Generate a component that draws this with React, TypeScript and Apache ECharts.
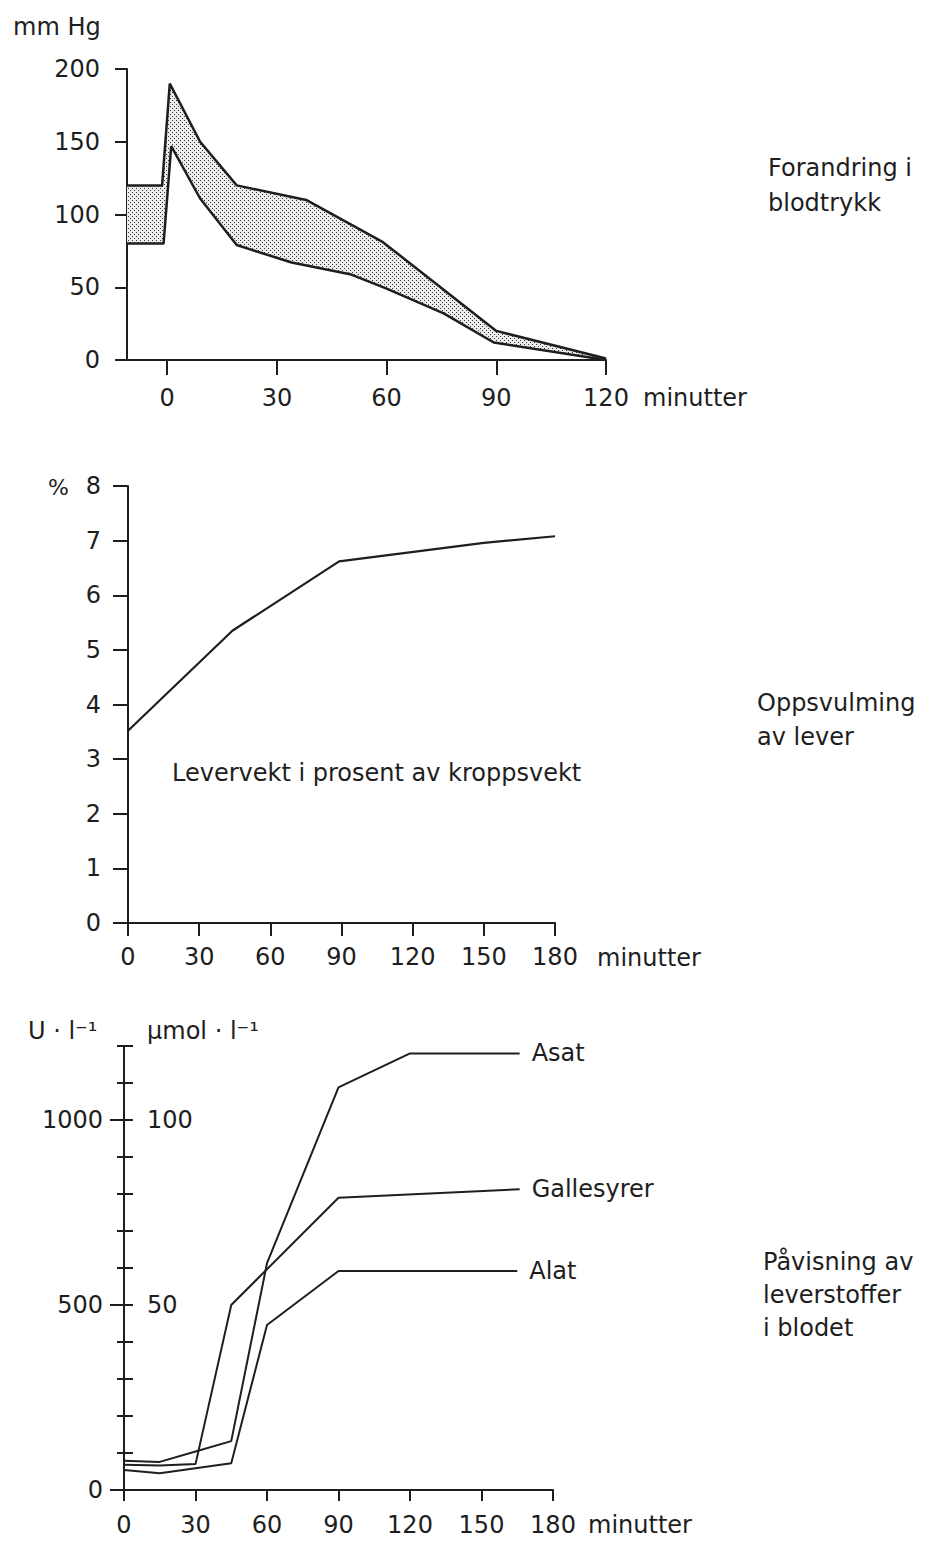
import React, { useEffect, useRef } from "react";
import * as echarts from "echarts";

// ---- Chart 1: blood pressure band (minutes, mm Hg)
const bpUpper: [number, number][] = [
  [-11, 120], [-1.4, 120], [0.7, 190], [9, 150], [19, 120], [38, 110], [59, 81], [90, 20], [120, 1],
];
const bpLower: [number, number][] = [
  [-11, 80], [-1, 80], [1.1, 147], [9, 111], [19, 79], [34, 67], [50, 59], [60, 49], [75.6, 32], [89.3, 12], [120, 0],
];
const bpXTicks = [0, 30, 60, 90, 120];

// ---- Chart 2: liver weight in % of body weight
const liverWeight: [number, number][] = [
  [0, 3.52], [44, 5.35], [89, 6.62], [150, 6.96], [180, 7.08],
];

// ---- Chart 3: liver substances in blood
const asat: [number, number][] = [
  [0, 79], [15, 76], [30, 104], [45, 132], [60, 613], [90, 1088], [120, 1180], [166, 1180],
];
const gallesyrer: [number, number][] = [ // µmol/l
  [0, 6.8], [15, 6.6], [30, 7.0], [45, 50], [90, 79], [166, 81.3],
];
const alat: [number, number][] = [
  [0, 54], [15, 45], [30, 59], [45, 72], [60, 446], [90, 592], [165, 592],
];
const uLabels = [0, 500, 1000];
const umolLabels = [50, 100];

const ink = "#1e1e1e";
const ff = "'DejaVu Sans', sans-serif";

export default function App() {
  const ref = useRef<HTMLDivElement>(null);
  useEffect(() => {
    if (!ref.current) return;
    const chart = echarts.init(ref.current, undefined, { renderer: "svg" });

    const cv = document.createElement("canvas");
    cv.width = 4;
    cv.height = 4;
    const ctx = cv.getContext("2d");
    if (ctx) {
      ctx.fillStyle = "#ececec";
      ctx.fillRect(0, 0, 4, 4);
      ctx.fillStyle = "#333333";
      ctx.fillRect(0, 0, 1, 1);
      ctx.fillRect(2, 2, 1, 1);
    }
    const pattern: any = { image: cv, repeat: "repeat" };

    const axisLine = { show: true, onZero: false, lineStyle: { color: ink, width: 2 } };
    const label = (margin: number, extra: any = {}) => ({
      margin, fontSize: 24, color: ink, fontFamily: ff, ...extra,
    });
    const tick = (length: number, extra: any = {}) => ({
      show: true, length, lineStyle: { color: ink, width: 2 }, ...extra,
    });
    const lineSeries = (data: any, xi: number, yi: number, width: number, extra: any = {}) => ({
      type: "line", data, xAxisIndex: xi, yAxisIndex: yi, symbol: "none",
      lineStyle: { color: ink, width }, z: 3, ...extra,
    });
    const txt = (text: string, x: number, y: number, extra: any = {}) => ({
      type: "text", x, y,
      style: {
        text, fill: ink, fontSize: 24, fontFamily: ff,
        align: "left", verticalAlign: "middle", textAlign: "left", textVerticalAlign: "middle",
        ...extra,
      },
    });
    const endLabel = {
      show: true, formatter: (p: any) => p.seriesName, distance: 12,
      fontSize: 24, color: ink, fontFamily: ff,
    };
    const hidden = {
      axisLine: { show: false, onZero: false }, axisTick: { show: false },
      axisLabel: { show: false }, splitLine: { show: false },
    };

    chart.setOption({
      animation: false,
      backgroundColor: "#ffffff",
      grid: [
        { left: 127, top: 69, width: 479, height: 291 },
        { left: 128, top: 486, width: 427, height: 437 },
        { left: 124, top: 1046, width: 429, height: 444 },
        // narrow strip right of the U/l axis: carries the µmol ticks and labels
        { left: 124, top: 1046, width: 9, height: 444 },
      ],
      xAxis: [
        {
          gridIndex: 0, type: "value", min: -11, max: 120,
          axisLine, splitLine: { show: false },
          axisTick: tick(15, { customValues: bpXTicks }),
          axisLabel: label(26, { customValues: bpXTicks }),
        },
        {
          gridIndex: 1, type: "value", min: 0, max: 180, interval: 30,
          axisLine, splitLine: { show: false },
          axisTick: tick(13), axisLabel: label(22),
        },
        {
          gridIndex: 2, type: "value", min: 0, max: 180, interval: 30,
          axisLine, splitLine: { show: false },
          axisTick: tick(11), axisLabel: label(23),
        },
        { gridIndex: 3, type: "value", min: 0, max: 1, ...hidden },
      ],
      yAxis: [
        {
          gridIndex: 0, type: "value", min: 0, max: 200, interval: 50, position: "left",
          axisLine, splitLine: { show: false },
          axisTick: tick(12), axisLabel: label(27),
        },
        {
          gridIndex: 1, type: "value", min: 0, max: 8, interval: 1, position: "left",
          axisLine, splitLine: { show: false },
          axisTick: tick(15), axisLabel: label(27),
        },
        {
          gridIndex: 2, type: "value", min: 0, max: 1200, interval: 100, position: "left",
          axisLine, splitLine: { show: false },
          axisTick: tick(7),
          axisLabel: label(21, {
            formatter: (v: number) => (uLabels.includes(v) ? String(v) : ""),
          }),
        },
        {
          // µmol scale used by Gallesyrer
          gridIndex: 2, type: "value", min: 0, max: 120, interval: 10, position: "right",
          ...hidden,
        },
        {
          gridIndex: 2, type: "value", min: 0, max: 1200, position: "left",
          axisLine: { show: false, onZero: false }, splitLine: { show: false },
          axisTick: tick(14, { customValues: uLabels }),
          axisLabel: { show: false },
        },
        {
          gridIndex: 3, type: "value", min: 0, max: 120, interval: 10, position: "right",
          axisLine: { show: false, onZero: false }, axisTick: { show: false },
          splitLine: { show: true, lineStyle: { color: ink, width: 2 } },
          axisLabel: label(14, {
            formatter: (v: number) => (umolLabels.includes(v) ? String(v) : ""),
          }),
        },
      ],
      series: [
        {
          type: "custom", xAxisIndex: 0, yAxisIndex: 0, clip: false, z: 1,
          data: [[0, 0]],
          renderItem: (params: any, api: any) => {
            if (params.dataIndex !== 0) return null;
            const pts = [
              ...bpUpper.map((p) => api.coord(p)),
              ...bpLower.slice().reverse().map((p) => api.coord(p)),
            ];
            return { type: "polygon", shape: { points: pts }, style: { fill: pattern, stroke: "none" } };
          },
        },
        lineSeries(bpUpper, 0, 0, 2.5),
        lineSeries(bpLower, 0, 0, 2.5),
        lineSeries(liverWeight, 1, 1, 2.2),
        lineSeries(asat, 2, 2, 2, { name: "Asat", endLabel }),
        lineSeries(gallesyrer, 2, 3, 2, { name: "Gallesyrer", endLabel }),
        lineSeries(alat, 2, 2, 2, { name: "Alat", endLabel }),
      ],
      graphic: [
        txt("mm Hg", 13, 27),
        txt("Forandring i\nblodtrykk", 768, 150, { verticalAlign: "top", textVerticalAlign: "top", lineHeight: 35 }),
        txt("minutter", 643, 398),
        txt("%", 48, 487, { fontSize: 22 }),
        txt("Levervekt i prosent av kroppsvekt", 172, 773),
        txt("Oppsvulming\nav lever", 757, 686, { verticalAlign: "top", textVerticalAlign: "top", lineHeight: 34 }),
        txt("minutter", 597, 958),
        txt("U · l⁻¹", 28, 1031),
        txt("µmol · l⁻¹", 147, 1031),
        txt("Påvisning av\nleverstoffer\ni blodet", 763, 1245, { verticalAlign: "top", textVerticalAlign: "top", lineHeight: 33 }),
        txt("minutter", 588, 1525),
      ],
    });
    return () => chart.dispose();
  }, []);
  return (
    <div
      ref={ref}
      style={{ position: "absolute", left: 0, top: 0, width: 932, height: 1542, background: "#fff" }}
    />
  );
}
